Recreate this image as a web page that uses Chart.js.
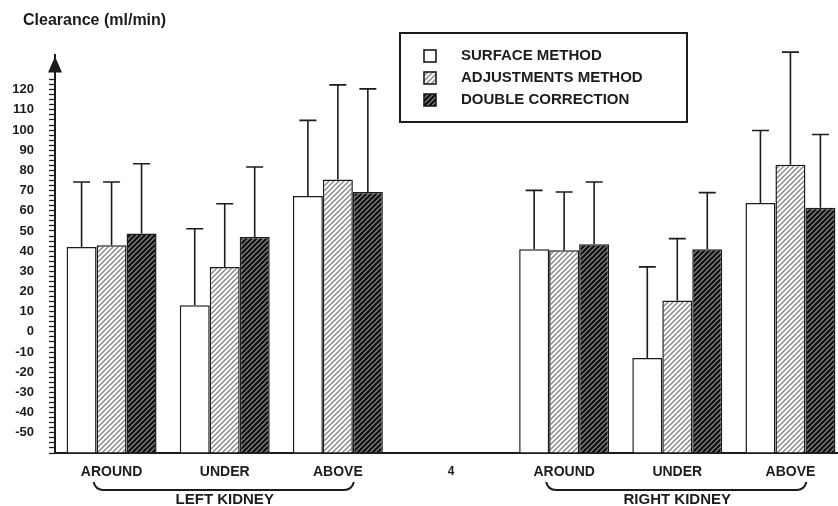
<!DOCTYPE html>
<html>
<head>
<meta charset="utf-8">
<script src="https://cdn.jsdelivr.net/npm/chart.js@4.4.1/dist/chart.umd.min.js"></script>
<style>
  html, body { margin: 0; padding: 0; background: #fff; overflow: hidden; }
  #wrap { width: 850px; height: 506px; }
</style>
</head>
<body>
<div id="wrap"><canvas id="myChart" width="850" height="506"></canvas></div>
<script>
// values (ml/min)
const categories = ["AROUND", "UNDER", "ABOVE", "4", "AROUND", "UNDER", "ABOVE"];
const seriesNames = ["SURFACE METHOD", "ADJUSTMENTS METHOD", "DOUBLE CORRECTION"];
const surface = [42.1, 13.2, 67.3, null, 40.9, -12.9, 63.9];
const surfaceErr = [74.3, 51.1, 104.8, null, 70.1, 32.2, 99.8];
const adjustments = [42.9, 32.2, 75.5, null, 40.4, 15.6, 82.8];
const adjustmentsErr = [74.3, 63.5, 122.4, null, 69.3, 46.2, 138.6];
const doubleCorr = [48.7, 47.0, 69.3, null, 43.4, 40.9, 61.5];
const doubleCorrErr = [83.3, 81.7, 120.4, null, 74.3, 69.0, 97.8];
const yTickLabels = [-50, -40, -30, -20, -10, 0, 10, 20, 30, 40, 50, 60, 70, 80, 90, 100, 110, 120];
const groupLabels = ["LEFT KIDNEY", "RIGHT KIDNEY"];
const groupSpans = [[0, 2], [4, 6]];
const yTitle = "Clearance (ml/min)";

const yMin = -60;
const yMax = 137;
const ink = "#1c1c1c";
const fontFam = "'Liberation Sans', Arial, Helvetica, sans-serif";

function hatch(bg, fg, lw) {
  const s = 5;
  const c = document.createElement("canvas");
  c.width = s; c.height = s;
  const g = c.getContext("2d");
  g.fillStyle = bg;
  g.fillRect(0, 0, s, s);
  g.strokeStyle = fg;
  g.lineWidth = lw;
  g.beginPath();
  g.moveTo(-1, s + 1); g.lineTo(s + 1, -1);
  g.moveTo(-1, 1); g.lineTo(1, -1);
  g.moveTo(s - 1, s + 1); g.lineTo(s + 1, s - 1);
  g.stroke();
  return g.createPattern(c, "repeat");
}

const fills = ["#ffffff", hatch("#ffffff", "#8a8a8a", 1.5), hatch("#8c8c8c", "#111111", 2.3)];
const errs = [surfaceErr, adjustmentsErr, doubleCorrErr];

// upper whiskers
const errorBars = {
  id: "errorBars",
  afterDatasetsDraw(chart) {
    const ctx = chart.ctx;
    const y = chart.scales.y;
    ctx.save();
    ctx.strokeStyle = ink;
    ctx.lineWidth = 1.6;
    chart.data.datasets.forEach((ds, i) => {
      const meta = chart.getDatasetMeta(i);
      meta.data.forEach((bar, j) => {
        const e = errs[i][j];
        if (e == null || ds.data[j] == null) return;
        const top = y.getPixelForValue(e);
        ctx.beginPath();
        ctx.moveTo(bar.x, bar.y);
        ctx.lineTo(bar.x, top);
        ctx.moveTo(bar.x - 8.5, top);
        ctx.lineTo(bar.x + 8.5, top);
        ctx.stroke();
      });
    });
    ctx.restore();
  }
};

// axis title, axis arrow, boxed legend, kidney brackets
const extras = {
  id: "extras",
  afterDraw(chart) {
    const ctx = chart.ctx;
    const area = chart.chartArea;
    const x = chart.scales.x;
    ctx.save();

    ctx.fillStyle = ink;
    ctx.font = "bold 16px " + fontFam;
    ctx.textBaseline = "middle";
    ctx.textAlign = "left";
    ctx.fillText(yTitle, 23, 21);

    // arrow on y axis
    ctx.beginPath();
    ctx.moveTo(area.left, area.top + 1);
    ctx.lineTo(area.left - 7, area.top + 17);
    ctx.lineTo(area.left + 7, area.top + 17);
    ctx.closePath();
    ctx.fill();

    // legend box
    ctx.strokeStyle = ink;
    ctx.lineWidth = 2;
    ctx.strokeRect(400, 33, 287, 89);
    const rows = [56, 78, 100];
    ctx.font = "bold 15px " + fontFam;
    chart.data.datasets.forEach((ds, i) => {
      ctx.fillStyle = ds.backgroundColor;
      ctx.fillRect(424, rows[i] - 6, 12, 12);
      ctx.lineWidth = 1.6;
      ctx.strokeRect(424, rows[i] - 6, 12, 12);
      ctx.fillStyle = ink;
      ctx.fillText(ds.label, 461, rows[i]);
    });

    // brackets under groups
    ctx.lineWidth = 2;
    ctx.textAlign = "center";
    groupSpans.forEach((span, k) => {
      const a = x.getPixelForValue(span[0]) - 18;
      const b = x.getPixelForValue(span[1]) + 16;
      ctx.beginPath();
      ctx.moveTo(a, 482);
      ctx.quadraticCurveTo(a + 2, 490, a + 10, 490);
      ctx.lineTo(b - 10, 490);
      ctx.quadraticCurveTo(b - 2, 490, b, 482);
      ctx.stroke();
      const mid = (x.getPixelForValue(span[0]) + x.getPixelForValue(span[1])) / 2;
      ctx.fillText(groupLabels[k], mid, 500);
    });
    ctx.restore();
  }
};

const ctx = document.getElementById("myChart");
const myChart = new Chart(ctx, {
  type: "bar",
  data: {
    labels: categories,
    datasets: [
      { label: seriesNames[0], data: surface, backgroundColor: fills[0] },
      { label: seriesNames[1], data: adjustments, backgroundColor: fills[1] },
      { label: seriesNames[2], data: doubleCorr, backgroundColor: fills[2] },
    ].map(d => Object.assign(d, {
      base: yMin,
      borderColor: ink,
      borderWidth: 1.5,
      categoryPercentage: 0.795,
      barPercentage: 1,
    })),
  },
  options: {
    responsive: false,
    animation: false,
    layout: { padding: { left: 0, right: 3, top: 55.4, bottom: 0 } },
    plugins: {
      legend: { display: false },
      tooltip: { enabled: false },
    },
    scales: {
      x: {
        grid: { display: false },
        border: { color: ink, width: 2 },
        ticks: {
          color: ink,
          padding: 3,
          maxRotation: 0,
          autoSkip: false,
          font: c => ({ family: fontFam, size: c.index === 3 ? 12 : 14, weight: "bold" }),
        },
        afterFit: s => { s.height = 53; },
      },
      y: {
        min: yMin,
        max: yMax,
        border: { color: ink, width: 2 },
        grid: { drawOnChartArea: false, drawTicks: true, tickLength: 6, tickColor: ink, tickWidth: 1.3 },
        ticks: {
          autoSkip: false,
          padding: 15,
          color: ink,
          font: { family: fontFam, size: 13, weight: "bold" },
          callback: v => (yTickLabels.includes(v) ? String(v) : ""),
        },
        afterBuildTicks: s => {
          const t = [];
          for (let v = yMin; v <= 125; v += 2.5) t.push({ value: v });
          s.ticks = t;
        },
        afterFit: s => { s.width = 55; },
      },
    },
  },
  plugins: [errorBars, extras],
});
</script>
</body>
</html>
